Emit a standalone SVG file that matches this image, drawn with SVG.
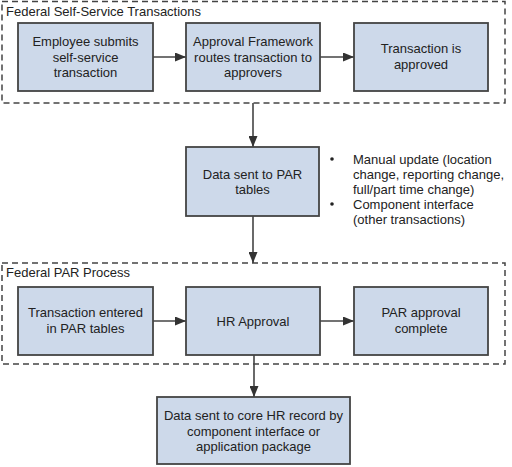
<svg xmlns="http://www.w3.org/2000/svg" width="512" height="467" viewBox="0 0 512 467">
<style>
text{font-family:"Liberation Sans",Arial,sans-serif;font-size:13px;fill:#222}
.c{text-anchor:middle}
.box{fill:#cdd9ea;stroke:#444;stroke-width:1.8}
.grp{fill:none;stroke:#444;stroke-width:1.5;stroke-dasharray:6,4}
.con{stroke:#444;stroke-width:1.6;fill:none;marker-end:url(#ah)}
</style>
<defs>
<marker id="ah" markerWidth="11" markerHeight="9" refX="11" refY="4.5" orient="auto" markerUnits="userSpaceOnUse">
<path d="M0,0 L11,4.5 L0,9 Z" fill="#333"/>
</marker>
</defs>
<rect width="512" height="467" fill="#fff"/>
<g id="group-self-service">
<rect class="grp" x="2" y="1.5" width="503" height="101.5"/>
<text x="6" y="16">Federal Self-Service Transactions</text>
</g>
<g id="group-par">
<rect class="grp" x="2" y="263" width="503" height="101"/>
<text x="6" y="277">Federal PAR Process</text>
</g>
<g id="connectors">
<line class="con" x1="153" y1="57" x2="186" y2="57"/>
<line class="con" x1="320" y1="57" x2="354" y2="57"/>
<line class="con" x1="253" y1="103" x2="253" y2="147"/>
<line class="con" x1="253" y1="216" x2="253" y2="263"/>
<line class="con" x1="153" y1="321" x2="186" y2="321"/>
<line class="con" x1="320" y1="321" x2="354" y2="321"/>
<line class="con" x1="254" y1="355" x2="254" y2="397"/>
</g>
<g id="n1">
<rect class="box" x="18" y="23" width="135" height="68"/>
<text class="c" x="85.5" y="46">Employee submits</text>
<text class="c" x="85.5" y="61.5">self-service</text>
<text class="c" x="85.5" y="77">transaction</text>
</g>
<g id="n2">
<rect class="box" x="186" y="23" width="134" height="68"/>
<text class="c" x="253" y="46">Approval Framework</text>
<text class="c" x="253" y="61.5">routes transaction to</text>
<text class="c" x="253" y="77">approvers</text>
</g>
<g id="n3">
<rect class="box" x="354" y="23" width="134" height="68"/>
<text class="c" x="421" y="53">Transaction is</text>
<text class="c" x="421" y="68.5">approved</text>
</g>
<g id="n4">
<rect class="box" x="186" y="147" width="133" height="69"/>
<text class="c" x="252.5" y="178.5">Data sent to PAR</text>
<text class="c" x="252.5" y="194">tables</text>
</g>
<g id="notes">
<circle cx="332" cy="159" r="1.8" fill="#222"/>
<circle cx="332" cy="204" r="1.8" fill="#222"/>
<text x="353" y="164">Manual update (location</text>
<text x="353" y="179">change, reporting change,</text>
<text x="353" y="194">full/part time change)</text>
<text x="353" y="209">Component interface</text>
<text x="353" y="224">(other transactions)</text>
</g>
<g id="n5">
<rect class="box" x="18" y="287" width="135" height="68"/>
<text class="c" x="85.5" y="317">Transaction entered</text>
<text class="c" x="85.5" y="332.5">in PAR tables</text>
</g>
<g id="n6">
<rect class="box" x="186" y="287" width="134" height="68"/>
<text class="c" x="253" y="325.5">HR Approval</text>
</g>
<g id="n7">
<rect class="box" x="354" y="287" width="134" height="68"/>
<text class="c" x="421" y="317">PAR approval</text>
<text class="c" x="421" y="332.5">complete</text>
</g>
<g id="n8">
<rect class="box" x="157" y="397" width="193" height="67"/>
<text class="c" x="253.5" y="420">Data sent to core HR record by</text>
<text class="c" x="253.5" y="435.5">component interface or</text>
<text class="c" x="253.5" y="451">application package</text>
</g>
</svg>
